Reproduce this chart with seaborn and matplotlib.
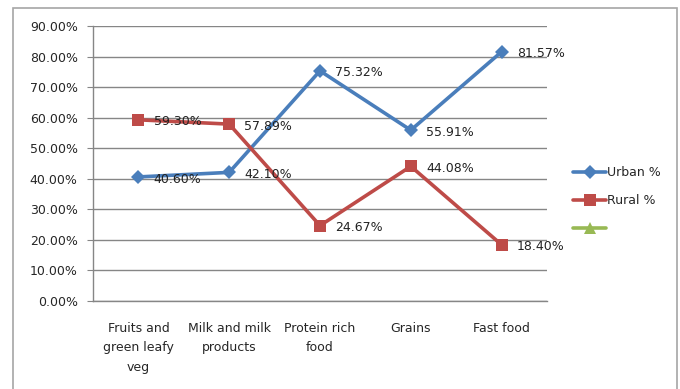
import matplotlib
matplotlib.use("Agg")
import matplotlib.pyplot as plt
import matplotlib.patches as mpatches
from matplotlib.lines import Line2D
from matplotlib.ticker import FixedLocator, FuncFormatter
import seaborn as sns
import pandas as pd

categories = ["Fruits and\ngreen leafy\nveg", "Milk and milk\nproducts", "Protein rich\nfood", "Grains", "Fast food"]
urban = [40.60, 42.10, 75.32, 55.91, 81.57]
rural = [59.30, 57.89, 24.67, 44.08, 18.40]
series_names = ["Urban %", "Rural %"]
y_ticks = [0, 10, 20, 30, 40, 50, 60, 70, 80, 90]

sns.set_style("white")
plt.rcParams['font.family'] = ['DejaVu Sans']

df = pd.DataFrame({
    "pos": list(range(len(categories))) * 2,
    "value": urban + rural,
    "series": [series_names[0]] * len(urban) + [series_names[1]] * len(rural),
})

colors = {"Urban %": "#4A7EBB", "Rural %": "#BE4B48"}
markers = {"Urban %": "D", "Rural %": "s"}
msizes = {"Urban %": 7, "Rural %": 9}

fig = plt.figure(figsize=(6.8, 3.89), dpi=100)
ax = fig.add_axes([93/680, 1 - 301/389, (547-93)/680, (301-26)/389])

for name in series_names:
    sub = df[df.series == name]
    sns.lineplot(data=sub, x="pos", y="value", ax=ax, color=colors[name],
                 marker=markers[name], markersize=msizes[name], markeredgewidth=0,
                 linewidth=2.6, legend=False)
    for x, y in zip(sub.pos, sub.value):
        ax.annotate(f"{y:.2f}%", (x, y), xytext=(11, -1.5), textcoords="offset points",
                    ha="left", va="center", fontsize=9, color="#222222")

ax.set_xlim(-0.5, len(categories) - 0.5)
ax.set_ylim(0, 90)
ax.yaxis.set_major_locator(FixedLocator(y_ticks))
ax.yaxis.set_major_formatter(FuncFormatter(lambda v, p: f"{v:.2f}%"))
ax.set_xticks(range(len(categories)))
ax.set_xticklabels(categories, fontsize=9, linespacing=1.65)
ax.tick_params(axis="x", length=0, pad=15)
ax.set_xticks([i - 0.5 for i in range(len(categories) + 1)], minor=True)
ax.tick_params(axis="x", which="minor", length=4, color="#868686", direction="out")
ax.tick_params(axis="y", length=4, color="#868686", direction="out", labelsize=9, pad=7, left=True)
ax.set_xlabel("")
ax.set_ylabel("")
ax.grid(axis="y", color="#868686", linewidth=1)
ax.set_axisbelow(True)
for s in ["top", "right"]:
    ax.spines[s].set_visible(False)
for s in ["left", "bottom"]:
    ax.spines[s].set_color("#868686")
    ax.spines[s].set_linewidth(1)

handles = [
    Line2D([], [], color=colors["Urban %"], marker="D", markersize=7, linewidth=2.6, markeredgewidth=0),
    Line2D([], [], color=colors["Rural %"], marker="s", markersize=9, linewidth=2.6, markeredgewidth=0),
    Line2D([], [], color="#98B954", marker="^", markersize=8, linewidth=2.6, markeredgewidth=0),
]
fig.legend(handles, ["Urban %", "Rural %", ""], loc="upper left",
           bbox_to_anchor=(562/680, 1 - 155/389), frameon=False, fontsize=9,
           handlelength=2.6, handletextpad=0.1, labelspacing=1.2)

fig.patches.append(mpatches.Rectangle((13/680, -0.05), (677-13)/680, 1.05 - 8/389,
                                      transform=fig.transFigure, fill=False,
                                      edgecolor="#A6A6A6", linewidth=1.2))

fig.savefig("out.png", dpi=100)
